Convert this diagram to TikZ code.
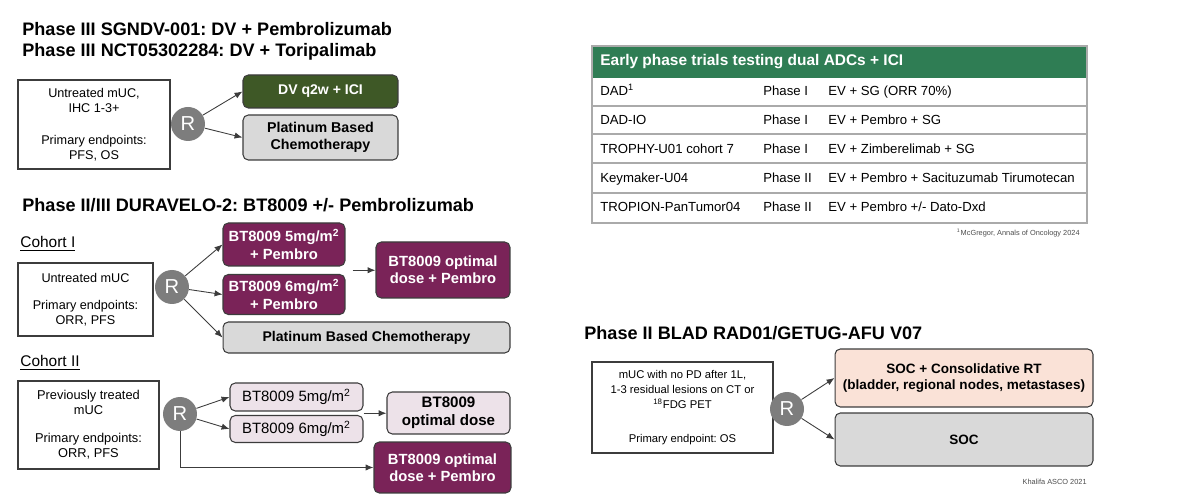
\documentclass[tikz,border=0pt]{standalone}
\usepackage{fontspec}
\setmainfont{Liberation Sans}
\usetikzlibrary{arrows.meta,positioning,calc}
\frenchspacing

\definecolor{dvgreen}{RGB}{62,88,38}
\definecolor{btpurple}{RGB}{122,35,88}
\definecolor{platgray}{RGB}{217,217,217}
\definecolor{lavender}{RGB}{237,226,233}
\definecolor{peach}{RGB}{250,226,215}
\definecolor{rgray}{RGB}{125,125,125}
\definecolor{tablegreen}{RGB}{47,125,84}
\definecolor{boxline}{RGB}{60,60,60}
\definecolor{gridgray}{RGB}{170,170,170}

\tikzset{
  ttl/.style={anchor=base west, inner sep=0pt, font=\fontsize{10.3}{12}\selectfont\bfseries},
  cohort/.style={anchor=base west, inner sep=0pt, font=\fontsize{8.8}{10}\selectfont},
  inbox/.style={draw=boxline, line width=0.6pt, align=center, inner sep=0pt},
  armbox/.style={draw=boxline, line width=0.6pt, rounded corners=3pt, align=center, inner sep=0pt},
  rbadge/.style={circle, fill=rgray, text=white, minimum size=0.68cm, inner sep=0pt, font=\fontsize{11.5}{12}\selectfont},
  arm/.style={->, draw=boxline, line width=0.5pt},
  cell/.style={anchor=base west, inner sep=0pt, font=\fontsize{7.5}{9}\selectfont},
  note/.style={anchor=base east, inner sep=0pt, text=black!70, font=\fontsize{4.2}{5}\selectfont}
}

\begin{document}
\begin{tikzpicture}[>={Latex[length=4.5pt,width=3.6pt]}, x=0.02cm, y=-0.02cm]
\useasboundingbox (0,0) rectangle (1200,502);

% --- SGNDV-001 / NCT05302284
\node[ttl] (ttl1a) at (22,36) {Phase III SGNDV-001: DV + Pembrolizumab};
\node[ttl] (ttl1b) at (22,57) {Phase III NCT05302284: DV + Toripalimab};
\node[inbox, minimum width=3.04cm, minimum height=1.78cm, font=\fontsize{7.2}{8.6}\selectfont]
  (pop1) at (94,124.5) {Untreated mUC,\\IHC 1-3+\\[9.4pt]Primary endpoints:\\PFS, OS};
\node[rbadge] (R1) at (188,124) {R};
\node[armbox, fill=dvgreen, text=white, minimum width=3.1cm, minimum height=0.66cm,
  font=\fontsize{8}{9.6}\selectfont\bfseries] (dvici) at (320.5,91.5) {DV q2w + ICI};
\node[armbox, fill=platgray, minimum width=3.1cm, minimum height=0.9cm,
  font=\fontsize{8.1}{9.8}\selectfont\bfseries] (plat1) at (320.5,137.5) {Platinum Based\\Chemotherapy};
\draw[arm] (R1) -- (dvici.west);
\draw[arm] (R1) -- (plat1.west);

% --- DURAVELO-2, cohort I
\node[ttl] (ttl2) at (22,212) {Phase II/III DURAVELO-2: BT8009 +/- Pembrolizumab};
\node[cohort] (coh1) at (20,248) {\underline{Cohort I}};
\node[inbox, minimum width=2.7cm, minimum height=1.46cm, font=\fontsize{7.2}{8.2}\selectfont]
  (pop2) at (85.5,299.5) {Untreated mUC\\[7.4pt]Primary endpoints:\\ORR, PFS};
\node[rbadge] (R2) at (172,287) {R};
\tikzset{purplebox/.style={armbox, fill=btpurple, text=white, font=\fontsize{8.4}{9.8}\selectfont\bfseries}}
\node[purplebox, minimum width=2.44cm, minimum height=0.86cm] (bt5a) at (284,244.5) {BT8009 5mg/m\textsuperscript{2}\\+ Pembro};
\node[purplebox, minimum width=2.44cm, minimum height=0.8cm] (bt6a) at (284,294.5) {BT8009 6mg/m\textsuperscript{2}\\+ Pembro};
\node[purplebox, minimum width=2.68cm, minimum height=1.12cm] (opta) at (443,270) {BT8009 optimal\\dose + Pembro};
\node[armbox, fill=platgray, minimum width=5.74cm, minimum height=0.62cm,
  font=\fontsize{8}{9.6}\selectfont\bfseries] (plat2) at (366.5,337.5) {Platinum Based Chemotherapy};
\draw[arm] (R2) -- (bt5a.west);
\draw[arm] (R2) -- (bt6a.west);
\draw[arm] (R2) -- (plat2.west);
\coordinate (gap1) at ($(bt5a.south east)!0.5!(bt6a.north east)$);
\draw[arm] ([xshift=4pt]gap1) -- (gap1 -| opta.west);

% --- DURAVELO-2, cohort II
\node[cohort] (coh2) at (20,367) {\underline{Cohort II}};
\node[inbox, minimum width=2.82cm, minimum height=1.76cm, font=\fontsize{7.3}{8.5}\selectfont]
  (pop3) at (88.5,425) {Previously treated\\mUC\\[7.4pt]Primary endpoints:\\ORR, PFS};
\node[rbadge] (R3) at (180,414) {R};
\tikzset{lilabox/.style={armbox, fill=lavender, font=\fontsize{8.5}{10}\selectfont}}
\node[lilabox, minimum width=2.66cm, minimum height=0.56cm] (bt5b) at (296.5,397) {BT8009 5mg/m\textsuperscript{2}};
\node[lilabox, minimum width=2.66cm, minimum height=0.54cm] (bt6b) at (296.5,429) {BT8009 6mg/m\textsuperscript{2}};
\node[lilabox, minimum width=2.46cm, minimum height=0.84cm, font=\fontsize{8.6}{10}\selectfont\bfseries]
  (optb) at (448.5,413) {BT8009\\optimal dose};
\node[purplebox, minimum width=2.74cm, minimum height=1.02cm] (optc) at (442.5,467.5) {BT8009 optimal\\dose + Pembro};
\draw[arm] (R3) -- (bt5b.west);
\draw[arm] (R3) -- (bt6b.west);
\coordinate (gap2) at ($(bt5b.south east)!0.5!(bt6b.north east)$);
\draw[arm] (gap2) -- (gap2 -| optb.west);
\draw[arm] (R3.south) |- (optc.west);

% --- early phase table
\fill[tablegreen] (592,46) rectangle (1087,78);
\node[anchor=west, inner sep=0pt, text=white, font=\fontsize{8.8}{10}\selectfont\bfseries]
  (thead) at (600,62) {Early phase trials testing dual ADCs + ICI};
\foreach \yy in {106,134,163,193}
  \draw[gridgray, line width=0.6pt] (592,\yy) -- (1087,\yy);
\draw[gridgray, line width=0.6pt] (592,46) rectangle (1087,223);
\foreach \trial/\ph/\combo [count=\i] in {
    DAD\textsuperscript{1}/Phase I/EV + SG (ORR 70\%),
    DAD-IO/Phase I/EV + Pembro + SG,
    TROPHY-U01 cohort 7/Phase I/EV + Zimberelimab + SG,
    Keymaker-U04/Phase II/EV + Pembro + Sacituzumab Tirumotecan,
    TROPION-PanTumor04/Phase II/{EV + Pembro +/- Dato-Dxd}}{
  \node[cell] (trial\i) at (600,78+29*\i-11) {\trial};
  \node[cell] (phase\i) at (763,78+29*\i-11) {\ph};
  \node[cell] (combo\i) at (828,78+29*\i-11) {\combo};
}
\node[note] (ref1) at (1080,236) {\textsuperscript{1}McGregor, Annals of Oncology 2024};

% --- BLAD RAD01
\node[ttl] (ttl4) at (584,340) {Phase II BLAD RAD01/GETUG-AFU V07};
\node[inbox, minimum width=3.62cm, minimum height=1.82cm, font=\fontsize{6.4}{8.5}\selectfont]
  (pop4) at (682.5,407.5) {mUC with no PD after 1L,\\1-3 residual lesions on CT or\\\textsuperscript{18}FDG PET\\[10.5pt]Primary endpoint: OS};
\node[rbadge] (R4) at (787,409) {R};
\node[armbox, fill=peach, minimum width=5.16cm, minimum height=1.16cm,
  font=\fontsize{7.7}{9.6}\selectfont\bfseries] (socrt) at (964,378) {SOC + Consolidative RT\\(bladder, regional nodes, metastases)};
\node[armbox, fill=platgray, minimum width=5.16cm, minimum height=1.06cm,
  font=\fontsize{7.7}{9.6}\selectfont\bfseries] (soc) at (964,439.5) {SOC};
\draw[arm] (R4) -- (socrt.west);
\draw[arm] (R4) -- (soc.west);
\node[note] (ref2) at (1087,485) {Khalifa ASCO 2021};
\end{tikzpicture}
\end{document}
